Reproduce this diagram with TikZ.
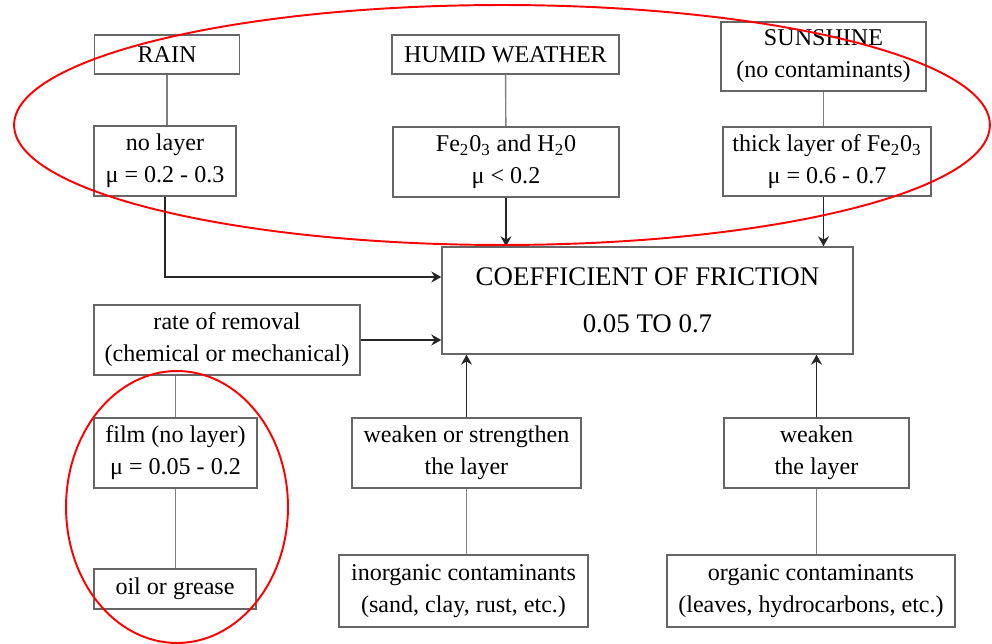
\documentclass[tikz,border=0pt]{standalone}
\usepackage{fontspec}
\setmainfont{Liberation Serif}
\newfontfamily\figserif{Liberation Serif}
\usetikzlibrary{positioning,arrows.meta}
\tikzset{
  cbox/.style={draw=black!60,line width=0.8pt,align=center,inner sep=2pt,
    font=\figserif\fontsize{13.7}{18.2}\selectfont},
  link/.style={line width=0.8pt,black!50},        % plain connector
  flow/.style={-{Stealth[length=2mm,width=2.2mm]},line width=0.8pt,black!85}, % arrow into result
  ring/.style={red,line width=1.1pt},             % highlight ellipse
}

\begin{document}
\begin{tikzpicture}[x=0.02cm,y=-0.02cm]
  \useasboundingbox (0,0) rectangle (992,644);
  % top row: weather conditions
  \node[cbox,minimum width=2.9cm,minimum height=0.78cm] (rain) at (167,54.5) {RAIN};
  \node[cbox,minimum width=4.54cm,minimum height=0.78cm] (humid) at (505.5,54.5) {HUMID WEATHER};
  \node[cbox,minimum width=4.1cm,minimum height=1.38cm] (sun) at (823.5,56.5) {SUNSHINE\\(no contaminants)};
  % layers formed
  \node[cbox,minimum width=2.84cm,minimum height=1.4cm] (nolayer) at (165,161) {no layer\\μ = 0.2 - 0.3};
  \node[cbox,minimum width=4.52cm,minimum height=1.4cm] (oxide) at (506,162) {Fe\textsubscript{2}0\textsubscript{3} and H\textsubscript{2}0\\μ < 0.2};
  \node[cbox,minimum width=4.16cm,minimum height=1.38cm] (thick) at (827,161.5) {thick layer of Fe\textsubscript{2}0\textsubscript{3}\\μ = 0.6 - 0.7};
  % result
  \node[cbox,minimum width=8.22cm,minimum height=2.14cm,font=\figserif\fontsize{15.3}{19}\selectfont] (cof) at (647.5,300.5) {COEFFICIENT OF FRICTION\\[8pt]0.05 TO 0.7};
  % left column
  \node[cbox,minimum width=5.32cm,minimum height=1.4cm] (removal) at (227,340) {rate of removal\\(chemical or mechanical)};
  \node[cbox,minimum width=3.26cm,minimum height=1.4cm] (film) at (175.5,453) {film (no layer)\\μ = 0.05 - 0.2};
  \node[cbox,minimum width=3.24cm,minimum height=0.8cm] (oil) at (175,589) {oil or grease};
  % contaminants
  \node[cbox,minimum width=4.58cm,minimum height=1.4cm] (wstr) at (466.5,453) {weaken or strengthen\\the layer};
  \node[cbox,minimum width=4.98cm,minimum height=1.44cm] (inorg) at (463.5,591) {inorganic contaminants\\(sand, clay, rust, etc.)};
  \node[cbox,minimum width=3.7cm,minimum height=1.4cm] (weak) at (816.5,453) {weaken\\the layer};
  \node[cbox,minimum width=5.76cm,minimum height=1.44cm] (org) at (811,591) {organic contaminants\\(leaves, hydrocarbons, etc.)};

  % connectors
  \draw[link] (rain.south) -- (rain.south |- nolayer.north);
  \draw[link] (humid) -- (oxide);
  \draw[link] (sun.south) -- (sun.south |- thick.north);
  \draw[flow] (oxide.south) -- (oxide.south |- cof.north);
  \draw[flow] (thick.south -| sun.south) -- (sun.south |- cof.north);
  \draw[flow] (nolayer.south) |- ([yshift=0.47cm]cof.west);
  \draw[flow] (removal.east) -- (removal.east -| cof.west);
  \draw[link] (film.north |- removal.south) -- (film.north);
  \draw[link] (film) -- (oil.north -| film.south);
  \draw[flow] (wstr.north) -- (wstr.north |- cof.south);
  \draw[link] (wstr.south) -- (wstr.south |- inorg.north);
  \draw[flow] (weak.north) -- (weak.north |- cof.south);
  \draw[link] (weak.south) -- (weak.south |- org.north);

  % red highlight rings
  \draw[ring] (502,125) ellipse [x radius=9.76cm,y radius=2.4cm];
  \draw[ring] (177,507) ellipse [x radius=2.22cm,y radius=2.72cm];
\end{tikzpicture}
\end{document}
